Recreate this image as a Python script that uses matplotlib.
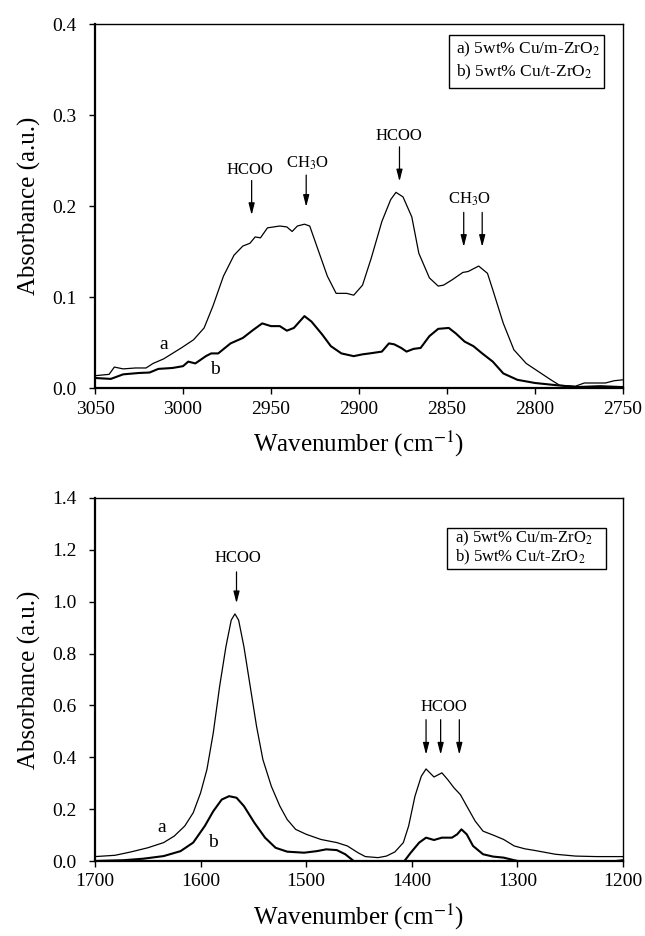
import matplotlib
matplotlib.use("Agg")
import matplotlib.pyplot as plt
import numpy as np

plt.rcParams['font.family'] = ['Liberation Serif', 'DejaVu Serif']
plt.rcParams['mathtext.fontset'] = 'stix'

# ---------------- data: C-H region (top) ----------------
wn_top_a = [3050, 3042, 3039, 3034, 3027, 3021, 3017, 3011, 3001, 2994, 2988, 2983, 2977,
            2971, 2966, 2962, 2959, 2956, 2952, 2945, 2941, 2938, 2935, 2931, 2928, 2924,
            2918, 2913, 2907, 2903, 2898, 2893, 2887, 2882, 2879, 2875, 2870, 2866, 2860,
            2855, 2852, 2847, 2841, 2838, 2832, 2827, 2824, 2818, 2812, 2805, 2798, 2791,
            2786, 2777, 2772, 2760, 2755, 2750]
abs_top_a = [0.0135, 0.015, 0.023, 0.021, 0.022, 0.022, 0.027, 0.032, 0.044, 0.053, 0.066,
             0.090, 0.123, 0.146, 0.156, 0.159, 0.166, 0.165, 0.176, 0.178, 0.177, 0.172,
             0.178, 0.180, 0.178, 0.156, 0.123, 0.104, 0.104, 0.102, 0.113, 0.143, 0.183,
             0.207, 0.215, 0.210, 0.188, 0.148, 0.121, 0.112, 0.113, 0.119, 0.127, 0.128,
             0.134, 0.126, 0.108, 0.071, 0.042, 0.027, 0.018, 0.009, 0.003, 0.002, 0.0055,
             0.0055, 0.008, 0.009]
wn_top_b = [3050, 3041, 3034, 3025, 3019, 3014, 3006, 3000, 2997, 2993, 2987, 2984, 2980,
            2973, 2966, 2960, 2955, 2950, 2945, 2941, 2937, 2931, 2927, 2921, 2916, 2910,
            2903, 2898, 2894, 2887, 2883, 2880, 2876, 2873, 2869, 2865, 2860, 2855, 2849,
            2845, 2840, 2835, 2830, 2824, 2818, 2810, 2800, 2791, 2777, 2763, 2750]
abs_top_b = [0.011, 0.010, 0.015, 0.0165, 0.017, 0.021, 0.022, 0.024, 0.029, 0.027, 0.035,
             0.038, 0.038, 0.049, 0.055, 0.064, 0.071, 0.068, 0.068, 0.063, 0.066, 0.079,
             0.073, 0.059, 0.046, 0.038, 0.035, 0.037, 0.038, 0.040, 0.049, 0.048, 0.044,
             0.040, 0.043, 0.044, 0.057, 0.065, 0.066, 0.060, 0.051, 0.046, 0.038, 0.029,
             0.016, 0.009, 0.0055, 0.0037, 0.001, 0.002, 0.001]

# ---------------- data: OCO region (bottom) ----------------
wn_bot_a = [1700, 1681, 1666, 1650, 1635, 1625, 1615, 1607, 1600, 1594, 1588, 1582, 1576,
            1571, 1567.5, 1564, 1559, 1553, 1547, 1541, 1533, 1525, 1518, 1510, 1500, 1486,
            1471, 1461, 1451, 1444, 1432, 1424, 1416, 1408, 1403, 1397, 1391, 1386.5, 1379,
            1371.5, 1366, 1360, 1354, 1348, 1340, 1332.5, 1323, 1313, 1303, 1293, 1284,
            1264, 1245, 1225, 1200]
abs_bot_a = [0.017, 0.022, 0.035, 0.051, 0.071, 0.096, 0.135, 0.186, 0.263, 0.353, 0.494,
             0.673, 0.827, 0.929, 0.953, 0.929, 0.827, 0.673, 0.519, 0.391, 0.288, 0.212,
             0.160, 0.122, 0.103, 0.083, 0.071, 0.058, 0.032, 0.017, 0.013, 0.019, 0.035,
             0.071, 0.135, 0.250, 0.327, 0.355, 0.324, 0.340, 0.314, 0.282, 0.256, 0.212,
             0.154, 0.115, 0.100, 0.083, 0.058, 0.047, 0.041, 0.026, 0.019, 0.017, 0.017]
wn_bot_b = [1700, 1673, 1654, 1635, 1619, 1607, 1596, 1588, 1580, 1573, 1566, 1559, 1549,
            1539, 1529, 1518, 1502, 1490, 1481, 1471, 1463, 1455, 1445, 1430, 1415, 1407,
            1401, 1393, 1386.5, 1379, 1371.5, 1362, 1357, 1353, 1348, 1342, 1332.5, 1323,
            1313, 1303, 1295, 1260, 1220, 1200]
abs_bot_b = [0.0, 0.003, 0.009, 0.019, 0.038, 0.071, 0.135, 0.192, 0.237, 0.250, 0.244,
             0.212, 0.147, 0.090, 0.051, 0.036, 0.032, 0.038, 0.045, 0.042, 0.026, 0.0,
             -0.02, -0.03, -0.02, 0.0, 0.032, 0.071, 0.090, 0.081, 0.090, 0.090, 0.103,
             0.122, 0.103, 0.058, 0.026, 0.017, 0.013, 0.003, -0.004, -0.01, -0.006, 0.003]

legend_lines = ["a) 5wt% Cu/m-ZrO$_2$", "b) 5wt% Cu/t-ZrO$_2$"]

# band assignments: (label, text wavenumber, text absorbance, arrow wavenumbers, arrow top, arrow bottom)
top_bands = [("HCOO", 2962, 0.240, [2961], 0.228, 0.190),
             ("CH$_3$O", 2929, 0.247, [2930], 0.234, 0.199),
             ("HCOO", 2877.5, 0.277, [2877], 0.265, 0.227),
             ("CH$_3$O", 2837, 0.2075, [2840.5, 2830], 0.193, 0.155)]
bot_bands = [("HCOO", 1565, 1.17, [1566], 1.115, 0.994),
             ("HCOO", 1370, 0.595, [1386.5, 1372.7, 1355], 0.545, 0.41)]

top_xticks = [3050, 3000, 2950, 2900, 2850, 2800, 2750]
top_yticks = [0.0, 0.1, 0.2, 0.3, 0.4]
bot_xticks = [1700, 1600, 1500, 1400, 1300, 1200]
bot_yticks = [0.0, 0.2, 0.4, 0.6, 0.8, 1.0, 1.2, 1.4]

fig = plt.figure(figsize=(6.45, 9.36), dpi=100)
ax1 = fig.add_axes([95/645, 1-388/936, 528/645, 364/936])
ax2 = fig.add_axes([95/645, 1-861/936, 528/645, 363/936])


def style(ax, xlim, ylim, xt, yt):
    ax.set_xlim(*xlim)
    ax.set_ylim(*ylim)
    ax.set_xticks(xt)
    ax.set_xticklabels([str(v) for v in xt], fontfamily='Liberation Serif')
    ax.set_yticks(yt)
    ax.set_yticklabels([f"{v:.1f}" for v in yt], fontfamily='Liberation Serif')
    ax.tick_params(axis='x', direction='out', length=4, width=1.0, labelsize=14, pad=5)
    ax.tick_params(axis='y', direction='out', length=4, width=1.0, labelsize=14, pad=9)
    for s in ['left', 'bottom']:
        ax.spines[s].set_linewidth(1.6)
    for s in ['top', 'right']:
        ax.spines[s].set_linewidth(1.0)
    ax.set_ylabel("Absorbance (a.u.)", fontsize=18, labelpad=8)
    ax.set_xlabel("Wavenumber (cm$^{-1}$)", fontsize=18, labelpad=8)


def legend_box(ax, x0, y0, x1, y1, ys, fs):
    ax.add_patch(plt.Rectangle((x0, y0), x1 - x0, y1 - y0, transform=ax.transAxes,
                               fill=False, lw=1.0, color='k'))
    for line, y in zip(legend_lines, ys):
        ax.text(x0 + 0.014, y, line, transform=ax.transAxes, fontsize=fs,
                va='center', ha='left')


def bands(ax, items, fs=12):
    for label, tx, ty, arrows, ytop, ybot in items:
        ax.text(tx, ty, label, ha='center', va='center', fontsize=fs)
        for axx in arrows:
            ax.annotate('', xy=(axx, ybot), xytext=(axx, ytop),
                        arrowprops=dict(arrowstyle='-|>,head_width=0.18,head_length=0.7',
                                        color='k', lw=0.9, shrinkA=0, shrinkB=0))


# top panel
ax1.plot(wn_top_a, abs_top_a, color='k', lw=0.9)
ax1.plot(wn_top_b, abs_top_b, color='k', lw=1.5)
style(ax1, (3050, 2750), (0, 0.4), top_xticks, top_yticks)
legend_box(ax1, 0.670, 0.824, 0.964, 0.970, [0.930, 0.866], 12.5)
bands(ax1, top_bands)
ax1.text(3011, 0.048, "a", ha='center', va='center', fontsize=14)
ax1.text(2982, 0.020, "b", ha='center', va='center', fontsize=14)

# bottom panel
ax2.plot(wn_bot_a, abs_bot_a, color='k', lw=0.9)
ax2.plot(wn_bot_b, abs_bot_b, color='k', lw=1.5)
style(ax2, (1700, 1200), (0, 1.4), bot_xticks, bot_yticks)
legend_box(ax2, 0.667, 0.805, 0.968, 0.918, [0.889, 0.837], 12)
bands(ax2, bot_bands)
ax2.text(1637, 0.128, "a", ha='center', va='center', fontsize=14)
ax2.text(1588.5, 0.073, "b", ha='center', va='center', fontsize=14)

fig.savefig("out.png", dpi=100)
